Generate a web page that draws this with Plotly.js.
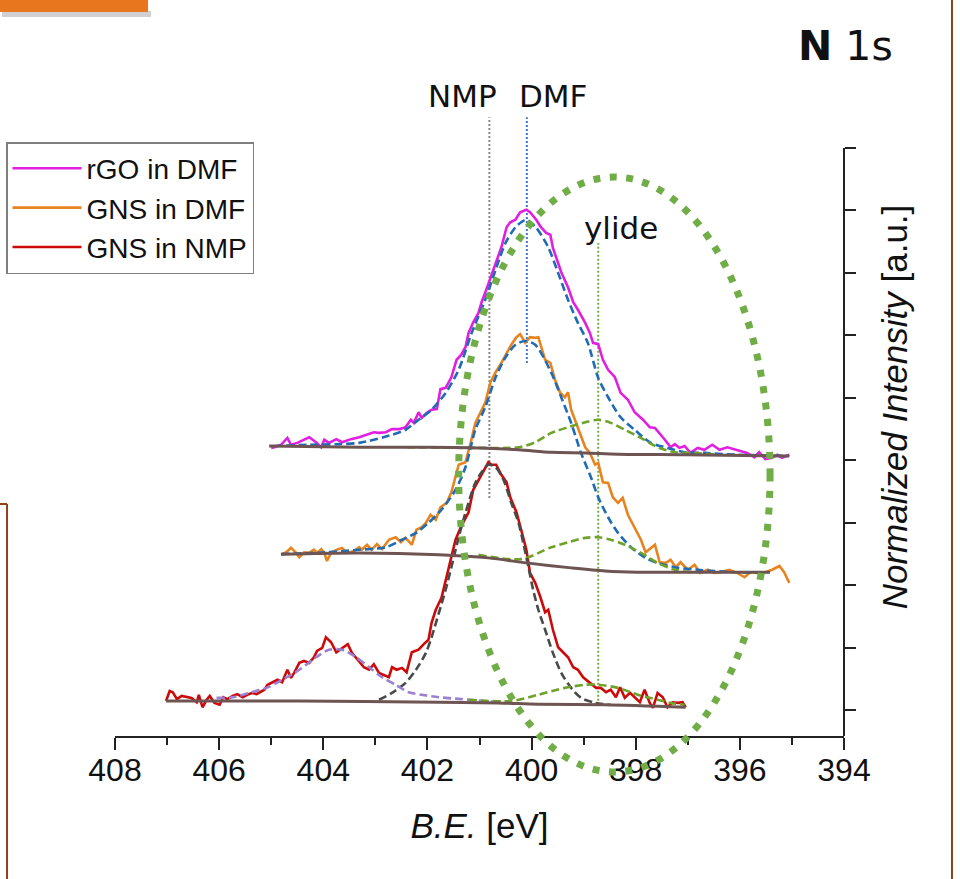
<!DOCTYPE html>
<html><head><meta charset="utf-8">
<script src="https://cdn.plot.ly/plotly-3.0.1.min.js"></script>
<style>html,body{margin:0;padding:0;background:#fff}#chart{width:960px;height:879px}</style>
</head><body><div id="chart"></div>
<script>
// ---- measured spectra (binding energy eV, normalized intensity a.u., offset stacked) ----
const rgoE = [405.00,404.94,404.81,404.69,404.62,404.50,404.27,404.14,404.04,403.98,
403.89,403.75,403.64,403.47,403.31,403.18,403.03,402.93,402.80,402.68,
402.55,402.42,402.32,402.26,402.17,402.11,402.01,401.92,401.82,401.75,
401.65,401.54,401.44,401.35,401.27,401.21,401.12,401.02,400.96,400.87,
400.77,400.68,400.58,400.48,400.41,400.31,400.22,400.10,400.03,399.91,
399.82,399.72,399.64,399.59,399.49,399.43,399.30,399.20,399.11,398.97,
398.88,398.82,398.72,398.63,398.53,398.40,398.29,398.15,398.02,397.86,
397.73,397.63,397.44,397.33,397.25,397.16,397.06,396.95,396.81,396.68,
396.53,396.39,396.24,396.05,395.86,395.72,395.63,395.51,395.38,395.28,
395.19,395.05];
const rgoI = [4.69,4.70,4.74,4.85,4.74,4.77,4.86,4.78,4.70,4.82,
4.77,4.83,4.78,4.83,4.86,4.90,4.94,4.93,4.94,4.99,
4.99,5.02,5.14,5.09,5.26,5.17,5.25,5.30,5.31,5.63,
5.65,5.82,6.10,6.18,6.30,6.53,6.70,6.85,7.02,7.22,
7.46,7.66,7.90,8.22,8.30,8.34,8.46,8.50,8.46,8.34,
8.22,8.13,8.10,7.89,7.65,7.50,7.26,7.02,6.90,6.69,
6.53,6.37,6.35,6.10,5.94,5.82,5.57,5.46,5.26,5.14,
5.02,5.01,4.82,4.70,4.75,4.69,4.72,4.61,4.69,4.66,
4.74,4.66,4.70,4.66,4.61,4.54,4.62,4.51,4.53,4.58,
4.53,4.58];

const dmfE = [404.81,404.71,404.62,404.52,404.46,404.37,404.27,404.18,404.12,404.04,
403.98,403.93,403.85,403.74,403.64,403.54,403.41,403.31,403.26,403.16,
403.07,402.97,402.87,402.74,402.61,402.51,402.42,402.30,402.21,402.11,
402.03,401.94,401.84,401.75,401.63,401.54,401.40,401.27,401.17,401.08,
400.98,400.89,400.79,400.69,400.58,400.48,400.39,400.29,400.22,400.12,
400.03,399.93,399.87,399.74,399.64,399.55,399.45,399.36,399.30,399.24,
399.15,398.97,398.88,398.78,398.72,398.63,398.53,398.44,398.34,398.25,
398.15,398.02,397.90,397.81,397.71,397.63,397.54,397.42,397.33,397.23,
397.14,397.00,396.87,396.76,396.62,396.49,396.37,396.20,396.05,395.91,
395.80,395.67,395.51,395.38,395.24,395.15,395.05];
const dmfI = [2.98,3.02,3.09,3.01,2.94,3.02,3.01,3.06,3.01,3.07,
3.01,2.88,3.01,3.06,3.09,3.01,3.04,3.10,3.06,3.14,
3.06,3.15,3.07,3.22,3.26,3.18,3.25,3.14,3.38,3.42,
3.49,3.62,3.54,3.74,3.81,3.98,4.42,4.46,4.77,5.09,
5.26,5.41,5.74,5.90,6.05,6.21,6.34,6.46,6.51,6.37,
6.46,6.45,6.46,6.10,6.05,5.78,5.57,5.50,5.58,5.30,
5.09,4.70,4.61,4.42,4.45,4.14,4.13,3.90,3.81,3.89,
3.62,3.42,3.22,3.02,3.09,3.14,2.86,2.85,2.90,2.78,
2.86,2.74,2.82,2.69,2.74,2.69,2.70,2.74,2.69,2.62,
2.70,2.69,2.70,2.74,2.80,2.70,2.53];

const nmpE = [407.02,406.95,406.89,406.81,406.72,406.62,406.53,406.43,406.39,406.32,
406.24,406.18,406.09,405.99,405.92,405.84,405.74,405.65,405.55,405.46,
405.36,405.28,405.19,405.13,405.07,404.98,404.88,404.79,404.69,404.62,
404.56,404.46,404.37,404.27,404.18,404.12,404.02,403.95,403.85,403.75,
403.64,403.53,403.45,403.31,403.22,403.12,403.03,402.93,402.84,402.74,
402.68,402.59,402.49,402.40,402.30,402.17,402.07,401.98,401.92,401.84,
401.73,401.63,401.56,401.46,401.36,401.27,401.21,401.12,401.02,400.92,
400.83,400.77,400.68,400.58,400.48,400.41,400.29,400.20,400.10,400.03,
399.93,399.83,399.74,399.68,399.59,399.49,399.39,399.30,399.20,399.11,
399.01,398.88,398.76,398.67,398.57,398.48,398.38,398.30,398.21,398.11,
398.02,397.92,397.83,397.73,397.67,397.58,397.48,397.39,397.29,397.19,
397.10,397.04];
const nmpI = [0.64,0.80,0.78,0.67,0.72,0.70,0.69,0.62,0.74,0.54,
0.66,0.72,0.61,0.58,0.70,0.67,0.72,0.75,0.70,0.74,
0.77,0.75,0.80,0.82,0.90,0.94,0.98,0.94,1.14,1.01,
1.09,1.25,1.28,1.25,1.34,1.44,1.49,1.66,1.58,1.42,
1.49,1.55,1.41,1.26,1.18,1.14,1.23,1.09,1.06,1.02,
1.18,1.14,1.17,1.10,1.42,1.46,1.55,1.62,1.89,2.10,
2.29,2.62,2.90,3.22,3.42,3.58,3.66,4.02,4.18,4.34,
4.46,4.42,4.42,4.26,4.14,3.90,3.66,3.38,3.06,2.69,
2.53,2.30,2.06,2.10,1.78,1.50,1.41,1.34,1.18,1.14,
1.02,0.93,0.85,0.85,0.78,0.82,0.70,0.86,0.69,0.77,
0.70,0.62,0.82,0.61,0.53,0.77,0.70,0.54,0.62,0.61,
0.62,0.54];

// ---- fitted components ----
const rgoFitE = [404.94,404.27,403.70,403.31,402.68,402.42,402.17,401.92,401.65,401.40,401.15,400.89,400.69,400.50,400.31,400.20,400.10,399.91,399.68,399.49,399.30,399.11,398.92,398.72,398.53,398.29,398.02,397.71,397.39,397.06,396.68,396.05,395.09];
const rgoFitI = [4.72,4.74,4.75,4.77,4.90,4.98,5.14,5.30,5.57,5.94,6.53,7.06,7.54,7.97,8.22,8.30,8.34,8.21,7.90,7.49,7.06,6.69,6.37,5.81,5.50,5.18,4.98,4.77,4.69,4.62,4.61,4.58,4.56];
const rgoYlideE = [402.40,401.02,400.25,399.93,399.62,399.30,398.97,398.72,398.48,398.21,397.90,397.58,397.25,396.95,396.43];
const rgoYlideI = [4.70,4.69,4.70,4.78,4.93,5.02,5.10,5.14,5.09,4.98,4.85,4.70,4.62,4.61,4.58];
const rgoBgE = [405.04,403.31,401.98,401.02,400.25,399.62,398.97,398.34,397.06,395.05];
const rgoBgI = [4.72,4.70,4.70,4.69,4.66,4.62,4.61,4.59,4.58,4.56];

const dmfFitE = [404.81,403.95,403.31,402.80,402.49,402.22,401.98,401.73,401.46,401.27,401.08,400.89,400.69,400.50,400.31,400.12,399.93,399.62,399.43,399.24,399.05,398.86,398.72,398.53,398.34,398.09,397.83,397.58,397.19,396.81,396.11,395.47];
const dmfFitI = [2.99,3.02,3.06,3.10,3.22,3.33,3.49,3.70,4.02,4.38,4.98,5.34,5.82,6.14,6.34,6.40,6.34,5.89,5.50,5.09,4.61,4.22,3.90,3.58,3.33,3.10,2.94,2.85,2.77,2.74,2.70,2.69];
const dmfYlideE = [401.02,400.20,399.62,399.30,398.97,398.72,398.48,398.21,397.90,397.58,397.25,396.95];
const dmfYlideI = [2.98,2.91,3.10,3.18,3.25,3.26,3.22,3.14,3.01,2.85,2.74,2.70];
const dmfBgE = [404.81,403.31,401.78,400.83,400.10,399.24,398.59,397.96,396.81,395.42];
const dmfBgI = [2.99,3.01,2.98,2.93,2.85,2.77,2.72,2.70,2.70,2.70];

const nmpMainE = [402.93,402.68,402.42,402.22,402.03,401.92,401.78,401.65,401.54,401.40,401.27,401.08,400.96,400.83,400.69,400.54,400.39,400.25,400.16,400.06,399.97,399.87,399.74,399.59,399.43,399.24,399.05,398.78,398.48];
const nmpMainI = [0.66,0.77,0.93,1.14,1.41,1.66,2.05,2.42,2.78,3.26,3.65,4.13,4.30,4.42,4.38,4.18,3.81,3.49,3.17,2.78,2.42,2.10,1.78,1.41,1.09,0.85,0.69,0.61,0.58];
const nmpHighE = [406.05,405.74,405.42,405.09,404.79,404.46,404.14,403.89,403.64,403.37,403.12,402.87,402.61,402.36,402.11,401.78,401.35,400.64];
const nmpHighI = [0.69,0.70,0.77,0.85,0.98,1.14,1.34,1.46,1.46,1.34,1.18,1.02,0.90,0.78,0.74,0.70,0.67,0.62];
const nmpYlideE = [401.21,400.39,399.87,399.36,398.97,398.72,398.34,397.96,397.58,397.33,397.06];
const nmpYlideI = [0.66,0.64,0.74,0.85,0.90,0.90,0.85,0.74,0.66,0.61,0.58];
const nmpBgE = [407.02,404.46,401.78,400.64,399.87,398.59,397.04];
const nmpBgI = [0.64,0.64,0.62,0.61,0.59,0.58,0.54];

// ---- reference positions and labels ----
const refNames = ['NMP','DMF','ylide'];
const refE = [400.81, 400.09, 398.72];
const refTop = [9.98, 9.98, 7.97];
const refBottom = [3.89, 6.05, 0.58];
const refColors = ['#8a8a8a','#4a78c8','#70ad47'];
const refLabelE = [401.33, 399.58, 398.28];
const refLabelI = [10.32, 10.32, 8.21];

const xTicks = [408,406,404,402,400,398,396,394];
const yTicks = [0.49,1.49,2.49,3.49,4.49,5.49,6.49,7.49,8.49,9.49];
const seriesNames = ['rGO in DMF','GNS in DMF','GNS in NMP'];

const C = {mag:'#e21fe0', org:'#e8841f', red:'#cc0a0a', blue:'#1f6cb4', green:'#6fa229', gray:'#4a4a4a', purple:'#9c80d0', brown:'#6e5452'};

function dataTrace(x, y, name, color){
  return {type:'scatter', mode:'lines', x:x, y:y, name:name, line:{color:color, width:2.6}, hoverinfo:'skip'};
}
function fitTrace(x, y, color, dash, w){
  return {type:'scatter', mode:'lines', x:x, y:y, showlegend:false, line:{color:color, width:w||2.6, dash:dash||'8px,4px', shape:'spline', smoothing:0.8}, hoverinfo:'skip'};
}

const traces = [
  dataTrace(rgoE, rgoI, seriesNames[0], C.mag),
  dataTrace(dmfE, dmfI, seriesNames[1], C.org),
  dataTrace(nmpE, nmpI, seriesNames[2], C.red),
  fitTrace(rgoFitE, rgoFitI, C.blue),
  fitTrace(rgoYlideE, rgoYlideI, C.green),
  fitTrace(dmfFitE, dmfFitI, C.blue),
  fitTrace(dmfYlideE, dmfYlideI, C.green),
  fitTrace(nmpMainE, nmpMainI, C.gray),
  fitTrace(nmpHighE, nmpHighI, C.purple),
  fitTrace(nmpYlideE, nmpYlideI, C.green),
  fitTrace(rgoBgE, rgoBgI, C.brown, 'solid', 3),
  fitTrace(dmfBgE, dmfBgI, C.brown, 'solid', 3),
  fitTrace(nmpBgE, nmpBgI, C.brown, 'solid', 3)
];

// plot area: x 115..844 px, y 78..736 px  (paper fractions below refer to it)
const shapes = [];
refE.forEach((e,i)=>{
  shapes.push({type:'line', layer:'below', xref:'x', yref:'y', x0:e, x1:e, y0:refBottom[i], y1:refTop[i],
    line:{color:refColors[i], width:2, dash:'2px,2px'}});
});
// right-side y axis line (ends at top tick)
shapes.push({type:'line', xref:'paper', yref:'y', x0:1, x1:1, y0:0.08, y1:yTicks[yTicks.length-1], line:{color:'#222', width:2}});
// highlight ellipse
shapes.push({type:'circle', xref:'x', yref:'paper', x0:401.40, x1:395.42, y0:-0.0547, y1:0.8495,
  line:{color:'#70ad47', width:7, dash:'7px,9.5px'}});
// slide decorations
shapes.push({type:'rect', xref:'paper', yref:'paper', x0:-0.155, x1:0.0494, y0:1.0927, y1:1.1018, fillcolor:'rgba(120,120,120,0.35)', line:{width:0}});
shapes.push({type:'rect', xref:'paper', yref:'paper', x0:-0.1578, x1:0.0453, y0:1.1003, y1:1.1185, fillcolor:'#e8761f', line:{width:0}});
shapes.push({type:'line', xref:'paper', yref:'paper', x0:1.1481, x1:1.1481, y0:-0.2173, y1:1.1185, line:{color:'#8f4216', width:2}});
shapes.push({type:'line', xref:'paper', yref:'paper', x0:-0.1481, x1:-0.1481, y0:-0.2173, y1:0.3526, line:{color:'#8f4216', width:2}});
shapes.push({type:'line', xref:'paper', yref:'paper', x0:-0.1578, x1:-0.1481, y0:0.3526, y1:0.3526, line:{color:'#8f4216', width:2}});

const annFont = {family:'DejaVu Sans, Verdana, sans-serif', size:31, color:'#111'};
const annotations = refNames.map((t,i)=>({xref:'x', yref:'y', x:refLabelE[i], y:refLabelI[i], text:t, showarrow:false, font:annFont, xanchor:'center', yanchor:'middle'}));
annotations.push({xref:'paper', yref:'paper', x:1.0027, y:1.0486, text:'<b>N</b> 1s', showarrow:false,
  font:{family:'DejaVu Sans, Verdana, sans-serif', size:41, color:'#111'}, xanchor:'center', yanchor:'middle'});

const axFont = {family:'Liberation Sans, Arial, sans-serif', size:32, color:'#111'};
const titleFont = {family:'Liberation Sans, Arial, sans-serif', size:35, color:'#111'};

const layout = {
  width:960, height:879,
  margin:{l:115, r:116, t:78, b:143, autoexpand:false},
  paper_bgcolor:'#fff', plot_bgcolor:'#fff',
  showlegend:true,
  legend:{x:-0.1495, y:0.9027, xanchor:'left', yanchor:'top', bgcolor:'#fff', bordercolor:'#7f7f7f', borderwidth:1.5,
    font:{family:'Liberation Sans, Arial, sans-serif', size:28, color:'#111'}, itemwidth:69, tracegroupgap:0},
  xaxis:{range:[408,394], tickvals:xTicks, ticktext:xTicks.map(String), ticks:'outside', ticklen:12, tickwidth:2, tickcolor:'#222',
    showline:true, linewidth:2, linecolor:'#222', showgrid:false, zeroline:false, tickfont:axFont, ticklabelstandoff:-7,
    minor:{dtick:1, tick0:394, ticks:'outside', ticklen:7, tickwidth:2, tickcolor:'#222', showgrid:false},
    title:{text:'<i>B.E.</i> [eV]', font:titleFont, standoff:26}},
  yaxis:{side:'right', range:[0.08,10.608], tickvals:yTicks, ticks:'outside', ticklen:11, tickwidth:2, tickcolor:'#222',
    showticklabels:false, showline:false, showgrid:false, zeroline:false,
    title:{text:'<i>Normalized Intensity</i> [a.u.]', font:titleFont, standoff:27}},
  shapes:shapes, annotations:annotations
};

Plotly.newPlot('chart', traces, layout, {displayModeBar:false, staticPlot:true});
</script></body></html>
